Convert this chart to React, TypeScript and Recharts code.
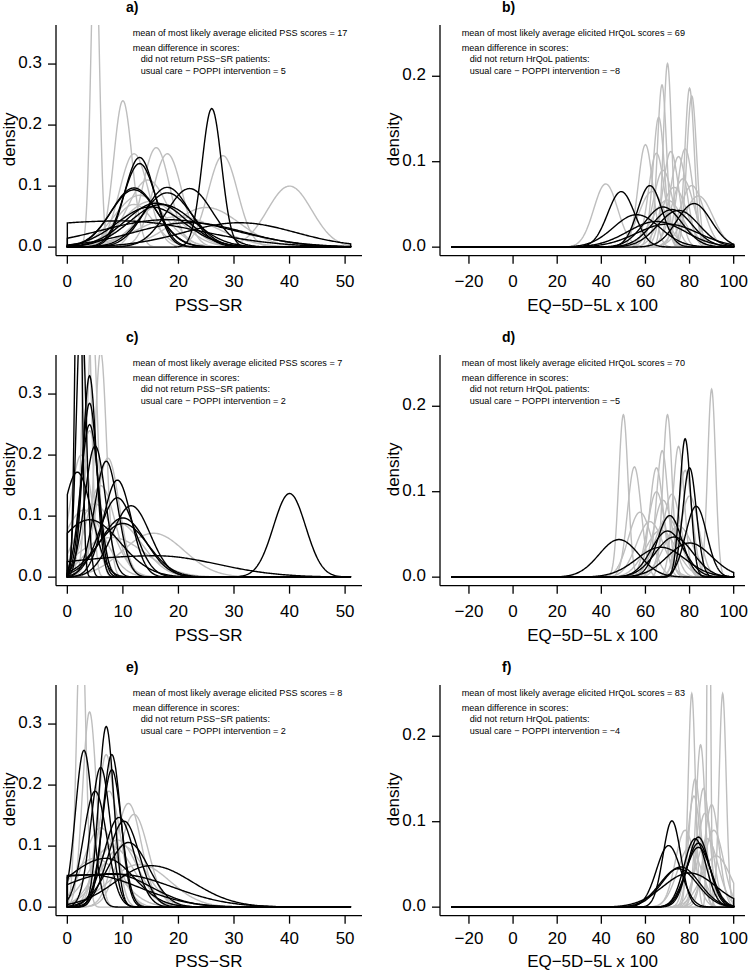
import React from 'react';
import { LineChart, Line, XAxis, YAxis } from 'recharts';

// each curve: [mode, peak density, sd left of mode, sd right of mode (optional)]
type Curve = number[];

const aGrey: Curve[] = [
  [5, 0.53, 0.75], [10, 0.24, 1.65], [12, 0.153, 2.6], [16, 0.163, 2.45], [18, 0.153, 2.6],
  [28, 0.15, 2.65], [40, 0.1, 4], [14.5, 0.11, 3.6], [25, 0.065, 6], [13, 0.085, 4.5],
  [15, 0.075, 5], [17, 0.07, 4.5], [12, 0.07, 3.5], [20, 0.05, 7],
];
const aBlack: Curve[] = [
  [26, 0.227, 1.75], [13, 0.147, 2.7], [13, 0.137, 2.9], [12, 0.097, 4.1], [12, 0.094, 4.2],
  [18, 0.098, 4.0], [18, 0.089, 4.4], [22, 0.096, 4.1], [16, 0.072, 5.5], [17, 0.07, 5.7],
  [15, 0.066, 6], [31, 0.04, 10], [10, 0.043, 25, 14], [18, 0.045, 12], [22, 0.04, 10],
];

const bGrey: Curve[] = [
  [42, 0.074, 5.4], [60, 0.12, 3.3], [66, 0.152, 2.6], [67.5, 0.19, 2.1], [70, 0.215, 1.85],
  [80, 0.186, 2.15], [81, 0.177, 2.25], [78, 0.115, 3.5], [71.5, 0.112, 3.6], [75, 0.106, 3.8],
  [65, 0.11, 3.6], [68, 0.09, 4.4], [81, 0.072, 5.5], [73, 0.07, 5.7], [63, 0.065, 6],
  [84, 0.06, 6.5], [77, 0.08, 5], [70, 0.055, 7],
];
const bBlack: Curve[] = [
  [49, 0.065, 6.1], [62, 0.072, 5.5], [56, 0.038, 10.5], [68, 0.047, 8.5], [72, 0.044, 9],
  [82, 0.051, 7.8], [75, 0.043, 9.3], [65, 0.03, 13], [70, 0.027, 14],
];

const cGrey: Curve[] = [
  [3.5, 0.5, 0.8], [6, 0.37, 1.05], [4.5, 0.42, 0.95], [7.3, 0.195, 2.05], [15.5, 0.072, 5.5],
  [3, 0.11, 3.6], [5, 0.12, 3.3], [8, 0.065, 6], [4, 0.24, 1.65], [6, 0.15, 2.6],
  [9, 0.09, 4.4], [2.5, 0.2, 2],
];
const cBlack: Curve[] = [
  [2, 0.72, 0.55], [2.5, 0.45, 0.85], [4, 0.33, 1.2], [4, 0.285, 1.4], [4, 0.25, 1.6],
  [5, 0.215, 1.85], [7, 0.19, 2.1], [9, 0.159, 2.5], [1.8, 0.172, 2.6], [9, 0.13, 3.1],
  [11.5, 0.117, 3.4], [10, 0.097, 4.1], [10, 0.088, 4.5], [4, 0.094, 5.5], [16, 0.035, 20, 11],
  [40, 0.137, 2.9],
];

const dGrey: Curve[] = [
  [50, 0.19, 2.1], [55, 0.129, 3.1], [57.5, 0.076, 5.2], [65, 0.128, 3.1], [67.6, 0.148, 2.7],
  [70, 0.19, 2.1], [75, 0.153, 2.6], [90, 0.22, 1.8], [65, 0.1, 4], [72, 0.097, 4.1],
  [78, 0.125, 3.2], [68, 0.09, 4.4], [62, 0.065, 6], [70, 0.07, 5.7], [75, 0.06, 6.5],
  [80, 0.095, 4.2], [67, 0.055, 7],
];
const dBlack: Curve[] = [
  [48, 0.044, 9], [78, 0.162, 2.45], [80, 0.128, 3.1], [83, 0.083, 4.8], [71, 0.072, 5.5],
  [70, 0.054, 7.3], [67, 0.035, 11], [80, 0.04, 10], [73, 0.047, 8.5],
];

const eGrey: Curve[] = [
  [2.5, 0.5, 0.8], [4, 0.32, 1.25], [7, 0.25, 1.6], [7.5, 0.19, 2.1], [11, 0.17, 2.35],
  [12, 0.152, 2.6], [9, 0.11, 3.6], [8, 0.1, 4], [10, 0.1, 4], [13, 0.07, 5.5],
  [6, 0.13, 3], [5, 0.08, 4.5],
];
const eBlack: Curve[] = [
  [3, 0.257, 1.55], [7, 0.296, 1.35], [8, 0.25, 1.6], [8, 0.225, 1.75], [6, 0.229, 1.75],
  [5, 0.19, 2.1], [9.3, 0.147, 2.7], [10.2, 0.141, 2.8], [11, 0.106, 3.7], [7, 0.08, 7, 5],
  [15, 0.068, 6.4, 7.5], [9, 0.054, 25, 10], [4, 0.053, 20, 9], [8, 0.055, 9, 7],
];

const fGrey: Curve[] = [
  [81, 0.25, 1.6], [88.7, 0.57, 0.7], [95, 0.25, 1.6], [85, 0.19, 2.1], [82.5, 0.15, 2.65],
  [86.3, 0.139, 2.85], [82, 0.13, 3], [90, 0.12, 3.3], [78, 0.09, 4.4], [92, 0.06, 6.5],
  [88, 0.08, 5], [80, 0.07, 5.5], [87, 0.11, 3.6], [91, 0.09, 4.4],
];
const fBlack: Curve[] = [
  [72, 0.101, 4], [70.5, 0.072, 5.5], [84, 0.082, 4.9], [82.5, 0.08, 5], [84, 0.075, 5.3],
  [84, 0.07, 5.7], [76, 0.047, 8.5], [80, 0.04, 12], [75, 0.045, 8.5],
];

const pssRange = [0, 51];
const eqRange = [-28, 100];
const pssTicks = [0, 10, 20, 30, 40, 50];
const eqTicks = [-20, 0, 20, 40, 60, 80, 100];
const pssDensityTicks = [0, 0.1, 0.2, 0.3];
const eqDensityTicks = [0, 0.1, 0.2];

const panelLetters = ['a)', 'b)', 'c)', 'd)', 'e)', 'f)'];
const meanScores = [17, 69, 7, 70, 8, 83];
const meanDiffs = [5, -8, 2, -5, 2, -4];

const FONT = '"Liberation Sans", Arial, Helvetica, sans-serif';
const PLOT_H = 230.7;
const ROW_TOP = [25, 355, 685];
const COL_LEFT = [55.7, 440];
const COL_W = [306, 305];
const LW = 1.4;
const NOTE_SIZE = 9.1;
// bottom row sits closer to the page edge
const TICK_DY = [23, 23, 20];
const XLABEL_DY = [55, 55, 51];

// Arial advance widths (per 1000 em) for the small annotation lines
const ARIAL: { [ch: string]: number } = {
  a: 556, c: 500, d: 556, e: 556, f: 278, g: 556, i: 222, k: 500, l: 222, m: 833, n: 556,
  o: 556, p: 556, r: 333, s: 500, t: 278, u: 556, v: 500, y: 500,
  P: 667, S: 667, H: 722, Q: 778, L: 556, O: 778, I: 278, R: 722,
  ' ': 278, '=': 584, ':': 278, '\u2212': 584,
};
const noteWidth = (s: string) =>
  (s.split('').reduce((w, ch) => w + (ARIAL[ch] ?? 556), 0) * NOTE_SIZE) / 1000;

const minus = (s: string) => s.replace('-', '\u2212');

// density shape of one elicited distribution, drawn as a closed outline on [lo, hi]
const curvePoints = (c: Curve, lo: number, hi: number) => {
  const [m, h, sl, sr0] = c;
  const sr = sr0 === undefined ? sl : sr0;
  const xs: number[] = [];
  for (let i = 0; i <= 240; i++) xs.push(lo + ((hi - lo) * i) / 240);
  for (let i = 0; i <= 90; i++) {
    const x = m - 4.5 * sl + ((4.5 * sl + 4.5 * sr) * i) / 90;
    if (x > lo && x < hi) xs.push(x);
  }
  xs.sort((p, q) => p - q);
  const pts = xs.map(x => {
    const z = (x - m) / (x < m ? sl : sr);
    return { x, y: h * Math.exp(-0.5 * z * z) };
  });
  return [{ x: lo, y: 0 }, ...pts, { x: hi, y: 0 }];
};

const YTick = (props: any) => (
  <text x={props.x} y={props.y + 3.8} textAnchor="end" fontFamily={FONT} fontSize={17} fill="#000">
    {Number(props.payload.value).toFixed(1)}
  </text>
);

interface PanelProps {
  idx: number;
  grey: Curve[];
  black: Curve[];
}

const Panel: React.FC<PanelProps> = ({ idx, grey, black }) => {
  const col = idx % 2;
  const row = Math.floor(idx / 2);
  const pss = col === 0;
  const [lo, hi] = pss ? pssRange : eqRange;
  const ext = (hi - lo) * 0.04;
  const yMax = pss ? 0.35 : 0.25;
  const plotW = COL_W[col];
  const xTick = (props: any) => (
    <text x={props.x} y={props.y + TICK_DY[row]} textAnchor="middle" fontFamily={FONT} fontSize={17} fill="#000">
      {minus(String(props.payload.value))}
    </text>
  );
  return (
    <div style={{ position: 'absolute', left: COL_LEFT[col] - 60, top: ROW_TOP[row] - 10 }}>
      <LineChart width={60 + plotW + 10} height={10 + PLOT_H + 60} margin={{ top: 10, right: 10, bottom: 0, left: 0 }}>
        <XAxis
          type="number"
          dataKey="x"
          domain={[lo - ext, hi + ext]}
          ticks={pss ? pssTicks : eqTicks}
          interval={0}
          allowDataOverflow
          height={60}
          tickSize={8}
          tickMargin={0}
          axisLine={{ stroke: '#000', strokeWidth: 1.3 }}
          tickLine={{ stroke: '#000', strokeWidth: 1.3 }}
          tick={xTick}
        />
        <YAxis
          type="number"
          domain={[-yMax * 0.04, yMax * 1.04]}
          ticks={pss ? pssDensityTicks : eqDensityTicks}
          interval={0}
          allowDataOverflow
          width={60}
          tickSize={8}
          tickMargin={6}
          axisLine={{ stroke: '#000', strokeWidth: 1.3 }}
          tickLine={{ stroke: '#000', strokeWidth: 1.3 }}
          tick={(p: any) => <YTick {...p} />}
        />
        {grey.map((c, i) => (
          <Line key={'g' + i} data={curvePoints(c, lo, hi)} dataKey="y" type="linear" stroke="#bebebe"
            strokeWidth={LW} dot={false} activeDot={false} isAnimationActive={false} />
        ))}
        {black.map((c, i) => (
          <Line key={'k' + i} data={curvePoints(c, lo, hi)} dataKey="y" type="linear" stroke="#000"
            strokeWidth={LW} dot={false} activeDot={false} isAnimationActive={false} />
        ))}
      </LineChart>
    </div>
  );
};

const PanelTexts: React.FC<{ idx: number }> = ({ idx }) => {
  const col = idx % 2;
  const row = Math.floor(idx / 2);
  const pss = col === 0;
  const left = COL_LEFT[col];
  const top = ROW_TOP[row];
  const cx = left + COL_W[col] / 2;
  const noteX = left + (pss ? 77 : 21.7);
  const what = pss ? 'PSS' : 'HrQoL';
  const who = pss ? 'PSS\u2212SR' : 'HrQoL';
  const notes = [
    { dx: 0, dy: 10.5, s: `mean of most likely average elicited ${what} scores = ${meanScores[idx]}` },
    { dx: 0, dy: 25.5, s: 'mean difference in scores:' },
    { dx: 8, dy: 37.2, s: `did not return ${who} patients:` },
    { dx: 8, dy: 48.9, s: `usual care \u2212 POPPI intervention = ${minus(String(meanDiffs[idx]))}` },
  ];
  return (
    <g fontFamily={FONT} fill="#000">
      <text x={pss ? 126 : 502} y={top - 13.5} fontSize={14} fontWeight="bold">{panelLetters[idx]}</text>
      {notes.map((n, i) => (
        <text key={i} x={noteX + n.dx} y={top + n.dy} fontSize={NOTE_SIZE} textLength={noteWidth(n.s)}>
          {n.s}
        </text>
      ))}
      <text x={cx} y={top + PLOT_H + XLABEL_DY[row]} fontSize={17} textAnchor="middle">
        {pss ? 'PSS\u2212SR' : 'EQ\u22125D\u22125L x 100'}
      </text>
      <text transform={`translate(${left - 41}, ${top + PLOT_H / 2 - 1}) rotate(-90)`} fontSize={17} textAnchor="middle">
        density
      </text>
    </g>
  );
};

const App: React.FC = () => {
  const panels = [
    { grey: aGrey, black: aBlack },
    { grey: bGrey, black: bBlack },
    { grey: cGrey, black: cBlack },
    { grey: dGrey, black: dBlack },
    { grey: eGrey, black: eBlack },
    { grey: fGrey, black: fBlack },
  ];
  return (
    <div style={{ position: 'absolute', left: 0, top: 0, width: 748, height: 972, background: '#fff', overflow: 'hidden' }}>
      {panels.map((p, i) => (
        <Panel key={i} idx={i} grey={p.grey} black={p.black} />
      ))}
      <svg width={748} height={972} style={{ position: 'absolute', left: 0, top: 0, pointerEvents: 'none' }}>
        {panels.map((_, i) => (
          <PanelTexts key={i} idx={i} />
        ))}
      </svg>
    </div>
  );
};

export default App;
